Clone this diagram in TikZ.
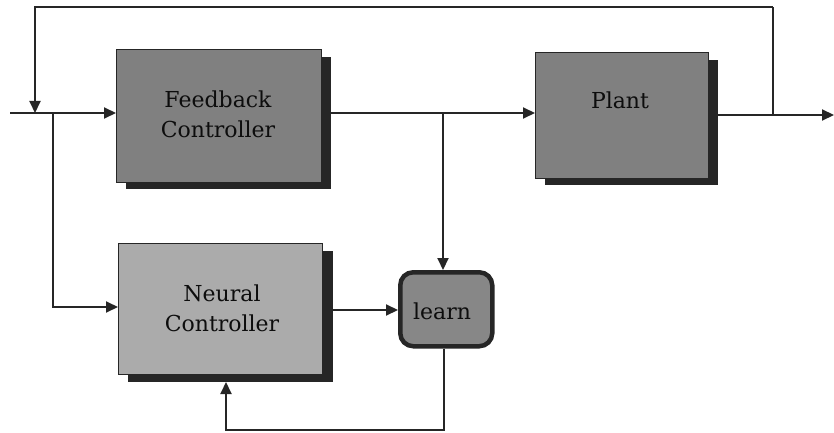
\documentclass[tikz,border=0pt]{standalone}
\usepackage{fontspec}
\newfontfamily\boxfont{DejaVu Serif}
\usetikzlibrary{arrows.meta}
\begin{document}
\begin{tikzpicture}[x=1pt,y=-1pt,
  line/.style={line width=2pt, draw=black!85},
  arr/.style={line, -{Triangle[length=12pt,width=11pt]}},
  txt/.style={font=\boxfont\fontsize{22}{30}\selectfont, text=black!95, align=center},
  darkbox/.style={fill=black!50, draw=black!85, line width=1pt},
  lightbox/.style={fill=black!33, draw=black!85, line width=1pt},
  learnbox/.style={fill=black!47, draw=black!85, line width=4.5pt, rounded corners=13pt}
]
\useasboundingbox (0,0) rectangle (834,433);
% shadows
\fill[black!85] (126,57) rectangle (331,189);
\fill[black!85] (545,60) rectangle (718,185);
\fill[black!85] (128,251) rectangle (333,382);
% boxes
\node[darkbox, minimum width=205pt, minimum height=133pt, anchor=north west] (fb) at (116,49) {};
\node[txt] (fbt) at (218,114) {Feedback\\Controller};
\node[darkbox, minimum width=173pt, minimum height=126pt, anchor=north west] (pl) at (535,52) {};
\node[txt] (plt) at (620,100) {Plant};
\node[lightbox, minimum width=204pt, minimum height=131pt, anchor=north west] (nc) at (118,243) {};
\node[txt] (nct) at (222,308) {Neural\\Controller};
\node[learnbox, minimum width=92pt, minimum height=74pt, anchor=north west] (ln) at (398,270) {};
\node[txt] (lnt) at (442,311) {learn};
% coordinates
\coordinate (in) at (10,113);
\coordinate (j1) at (35,113);
\coordinate (j2) at (53,113);
\coordinate (tl) at (35,7);
\coordinate (tr) at (773,7);
\coordinate (o1) at (773,115);
\coordinate (out) at (834,115);
\coordinate (fbout) at (331,113);
\coordinate (j3) at (443,113);
\coordinate (b1) at (53,307);
\coordinate (b2) at (444,430);
\coordinate (b3) at (226,430);
% connectors
\draw[line] (in) -- (j2);
\draw[arr] (j2) -- (fb.west |- j2);
\draw[arr] (tr) -- (tl) -- (j1);
\draw[line] (o1) -- (tr);
\draw[arr] (fbout) -- (pl.west |- fbout);
\draw[arr] (718,115) -- (out);
\draw[arr] (j3) -- (ln.north -| j3);
\draw[arr] (j2) -- (b1) -- (nc.west |- b1);
\draw[arr] (333,310) -- (ln.west |- 0,310);
\draw[arr] (ln.south -| b2) -- (b2) -- (b3) -- (226,382);
\end{tikzpicture}
\end{document}
